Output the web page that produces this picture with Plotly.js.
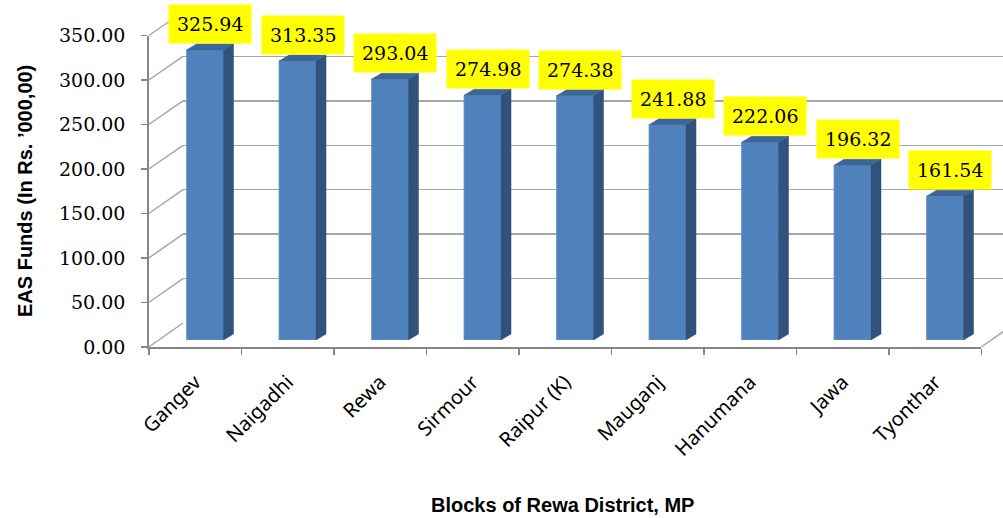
<!DOCTYPE html>
<html>
<head>
<meta charset="utf-8">
<script src="https://cdn.plot.ly/plotly-3.0.1.min.js"></script>
<style>html,body{margin:0;padding:0;background:#fff;}#chart{width:1003px;height:518px;}</style>
</head>
<body>
<div id="chart"></div>
<script>
// ---- data ----
const blocks = ["Gangev", "Naigadhi", "Rewa", "Sirmour", "Raipur (K)", "Mauganj", "Hanumana", "Jawa", "Tyonthar"];
const easFunds = [325.94, 313.35, 293.04, 274.98, 274.38, 241.88, 222.06, 196.32, 161.54];
const yTickVals = [0, 50, 100, 150, 200, 250, 300, 350];
const yTitle = "EAS Funds (In Rs. \u2019000,00)";
const xTitle = "Blocks of Rewa District, MP";

// ---- geometry (pixels) ----
const W = 1003, H = 518;
const px = v => v / W;
const py = v => 1 - v / H;
const yMax = 350;
// front plane (axis labels)
const front = {x0: 148.75, x1: 981.25, y0: 347, y1: 35.5};
// bar plane
const plane = {x0: 158.75, x1: 991.25, y0: 340, y1: 28.5};
// back wall (gridlines)
const back = {x0: 183, x1: 1003, y0: 323, y1: 12};
const unitPx = (plane.x1 - plane.x0) / blocks.length;       // px per category
const yPx = (plane.y0 - plane.y1) / yMax;                    // px per value unit
const halfW = 0.2;                 // half bar width (category units)
const depthX = 10 / unitPx;        // side depth in category units
const depthY = 6 / yPx;            // side depth in value units

const idx = blocks.map((_, i) => i);

// side faces and top faces built from the data
const sideX = [], sideY = [], topX = [], topY = [];
easFunds.forEach((v, i) => {
  const r = i + halfW, l = i - halfW;
  sideX.push(r, r + depthX, r + depthX, r, r, null);
  sideY.push(0, depthY, v + depthY, v, 0, null);
  topX.push(l, r, r + depthX, l + depthX, l, null);
  topY.push(v, v, v + depthY, v + depthY, v, null);
});

const traces = [
  // dummy trace so the back-wall subplot exists
  {type: 'scatter', x: [0], y: [0], xaxis: 'x', yaxis: 'y', mode: 'markers',
   marker: {opacity: 0}, hoverinfo: 'skip', showlegend: false},
  {type: 'bar', x: idx, y: easFunds, xaxis: 'x2', yaxis: 'y2', width: 2 * halfW,
   marker: {color: '#4F81BD', line: {color: '#6E97C8', width: 0.8}}, showlegend: false, hoverinfo: 'y'},
  {type: 'scatter', x: sideX, y: sideY, xaxis: 'x2', yaxis: 'y2', mode: 'lines', fill: 'toself',
   fillcolor: '#30527D', line: {width: 0.5, color: '#2C4B73'}, hoverinfo: 'skip', showlegend: false},
  {type: 'scatter', x: topX, y: topY, xaxis: 'x2', yaxis: 'y2', mode: 'lines', fill: 'toself',
   fillcolor: '#3D6698', line: {width: 0.5, color: '#3A6291'}, hoverinfo: 'skip', showlegend: false},
  // front axis subplot
  {type: 'scatter', x: blocks, y: easFunds, xaxis: 'x3', yaxis: 'y3', mode: 'markers',
   marker: {opacity: 0}, hoverinfo: 'skip', showlegend: false}
];

const shapes = [];
// connectors from front ticks to back wall gridlines
yTickVals.forEach(t => {
  const yf = front.y0 - t * (front.y0 - front.y1) / yMax;
  const yb = back.y0 - t * (back.y0 - back.y1) / yMax;
  shapes.push({type: 'line', xref: 'paper', yref: 'paper',
    x0: px(front.x0), y0: py(yf), x1: px(back.x0), y1: py(yb),
    line: {color: '#A6A6A6', width: 1.5}});
});
// right floor edge
shapes.push({type: 'line', xref: 'paper', yref: 'paper',
  x0: px(front.x1), y0: py(front.y0), x1: px(front.x1 + (back.x0 - front.x0)), y1: py(back.y0),
  line: {color: '#A6A6A6', width: 1.5}});

const annotations = easFunds.map((v, i) => ({
  x: i + depthX / 2, y: v + depthY, xref: 'x2', yref: 'y2',
  text: v.toFixed(2), showarrow: false, yanchor: 'bottom', yshift: 0,
  bgcolor: '#FFFF00', borderpad: 8,
  font: {family: 'DejaVu Serif', size: 19, color: '#000'}
}));
annotations.push({
  xref: 'paper', yref: 'paper', x: px(25), y: py(191), xanchor: 'center', yanchor: 'middle',
  text: '<b>' + yTitle + '</b>',
  textangle: -90, showarrow: false, font: {family: 'Liberation Sans', size: 20, color: '#000'}
});
annotations.push({
  xref: 'paper', yref: 'paper', x: px(562), y: py(505), xanchor: 'center', yanchor: 'middle',
  text: '<b>' + xTitle + '</b>',
  showarrow: false, font: {family: 'Liberation Sans', size: 20, color: '#000'}
});

const layout = {
  width: W, height: H,
  margin: {l: 0, r: 0, t: 0, b: 0, pad: 0},
  paper_bgcolor: '#FFFFFF', plot_bgcolor: 'rgba(0,0,0,0)',
  showlegend: false,
  // back wall
  xaxis: {domain: [px(back.x0), 1], range: [0, 1], visible: false, fixedrange: true, automargin: false},
  yaxis: {domain: [py(back.y0), py(back.y1)], range: [0, yMax], tickvals: yTickVals,
    showgrid: true, gridcolor: '#A6A6A6', gridwidth: 1.5, zeroline: false, showticklabels: false,
    ticks: '', showline: false, anchor: 'x', automargin: false},
  // bar plane
  xaxis2: {domain: [px(plane.x0), px(plane.x1)], range: [-0.5, blocks.length - 0.5], visible: false,
    anchor: 'y2', automargin: false},
  yaxis2: {domain: [py(plane.y0), py(plane.y1)], range: [0, yMax], visible: false,
    anchor: 'x2', automargin: false},
  // front axes
  xaxis3: {domain: [px(front.x0), px(front.x1)], type: 'category', categoryarray: blocks,
    range: [-0.5, blocks.length - 0.5], anchor: 'y3', showgrid: false, zeroline: false,
    showline: true, linecolor: '#868686', linewidth: 1.5, ticks: 'outside', tickson: 'boundaries',
    ticklen: 6, tickcolor: '#868686', tickwidth: 1.5, tickangle: -45, ticklabelstandoff: 14,
    tickfont: {family: 'Noto Sans', size: 20, color: '#000'}, automargin: false},
  yaxis3: {domain: [py(front.y0), py(front.y1)], range: [0, yMax], tickvals: yTickVals,
    tickformat: '.2f', anchor: 'x3', showgrid: false, zeroline: false,
    showline: true, linecolor: '#868686', linewidth: 1.5, ticks: 'outside', ticklen: 6,
    tickcolor: '#868686', tickwidth: 1.5, ticklabelstandoff: 12,
    tickfont: {family: 'DejaVu Serif', size: 19, color: '#000'}, automargin: false},
  shapes: shapes,
  annotations: annotations
};

Plotly.newPlot('chart', traces, layout, {displayModeBar: false, staticPlot: true});
</script>
</body>
</html>
